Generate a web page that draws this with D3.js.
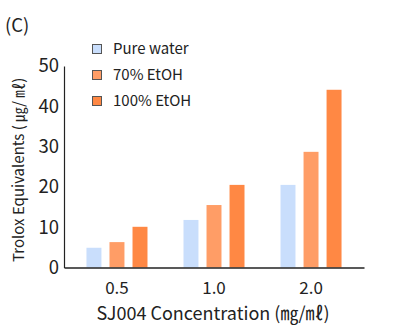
<!DOCTYPE html>
<html>
<head>
<meta charset="utf-8">
<script src="https://cdn.jsdelivr.net/npm/d3@7"></script>
<style>
  body { margin: 0; background: #fff; }
  text { font-family: "Noto Sans CJK KR", "Noto Sans", sans-serif; fill: #222; }
</style>
</head>
<body>
<svg width="400" height="335"></svg>
<script>
// data
var concentrations = ["0.5", "1.0", "2.0"];
var solvents = ["Pure water", "70% EtOH", "100% EtOH"];
var pureWater = [4.9, 11.8, 20.5];
var etoh70 = [6.3, 15.5, 28.7];
var etoh100 = [10.1, 20.5, 44.1];
var yTicks = [0, 10, 20, 30, 40, 50];
var colors = ["#c9defc", "#ff9d66", "#ff8844"];

var seriesValues = [pureWater, etoh70, etoh100];

var svg = d3.select("svg");
var padding = { top: 66, right: 36, bottom: 68, left: 64 };
var width = +svg.attr("width");
var height = +svg.attr("height");

var xScale = d3.scaleBand()
  .domain(concentrations)
  .range([padding.left, width - padding.right])
  .paddingInner(0.3)
  .paddingOuter(0.196);

var subScale = d3.scaleBand()
  .domain(solvents)
  .range([0, xScale.bandwidth()])
  .paddingInner(0.35)
  .paddingOuter(0.15);

var yScale = d3.scaleLinear()
  .domain([0, 50])
  .range([height - padding.bottom + 0.5, padding.top]);

var zScale = d3.scaleOrdinal()
  .domain(solvents)
  .range(colors);

// bars
var rows = concentrations.map((c, i) => ({
  key: c,
  values: solvents.map((s, j) => ({ key: s, value: seriesValues[j][i] }))
}));

svg.selectAll(".group")
  .data(rows)
  .enter()
  .append("g")
    .classed("group", true)
    .attr("transform", d => `translate(${xScale(d.key)}, 0)`)
  .selectAll("rect")
  .data(d => d.values)
  .enter()
  .append("rect")
    .attr("x", d => subScale(d.key))
    .attr("width", subScale.bandwidth())
    .attr("y", d => yScale(d.value))
    .attr("height", d => yScale(0) - yScale(d.value))
    .style("fill", d => zScale(d.key));

// axes
var yAxis = svg.append("g")
  .attr("transform", `translate(${padding.left}, 0)`)
  .call(d3.axisLeft(yScale).tickValues(yTicks).tickSize(0).tickPadding(5));
yAxis.select(".domain").attr("stroke", "#222").attr("stroke-width", 1.2);
yAxis.selectAll("text").style("font-size", "18.5px").style("fill", "#222");

var xAxis = svg.append("g")
  .attr("transform", `translate(0, ${yScale(0)})`)
  .call(d3.axisBottom(xScale).tickSize(0).tickPadding(14));
xAxis.select(".domain").attr("stroke", "#222").attr("stroke-width", 1.5);
xAxis.selectAll("text").style("font-size", "17px").style("fill", "#222");

// axis labels
svg.append("text")
  .attr("transform", `translate(24, ${(padding.top + yScale(0)) / 2 + 3}) rotate(-90)`)
  .attr("text-anchor", "middle")
  .style("font-size", "15px")
  .text("Trolox Equivalents ( ㎍/ ㎖)");

svg.append("text")
  .attr("x", (padding.left + width - padding.right) / 2 - 1)
  .attr("y", 320)
  .attr("text-anchor", "middle")
  .style("font-size", "18px")
  .text("SJ004 Concentration (㎎/㎖)");

svg.append("text")
  .attr("x", 5)
  .attr("y", 32)
  .style("font-size", "18.5px")
  .text("(C)");

// legend
var legend = svg.selectAll(".legend")
  .data(solvents)
  .enter()
  .append("g")
    .classed("legend", true)
    .attr("transform", (d, i) => `translate(92, ${49 + i * 26})`);

legend.append("rect")
  .attr("x", 0.5)
  .attr("y", -4.5)
  .attr("width", 9)
  .attr("height", 9)
  .style("fill", d => zScale(d))
  .style("stroke", "#555");

legend.append("text")
  .attr("x", 21)
  .attr("dy", "0.35em")
  .style("font-size", "15px")
  .text(d => d);
</script>
</body>
</html>
